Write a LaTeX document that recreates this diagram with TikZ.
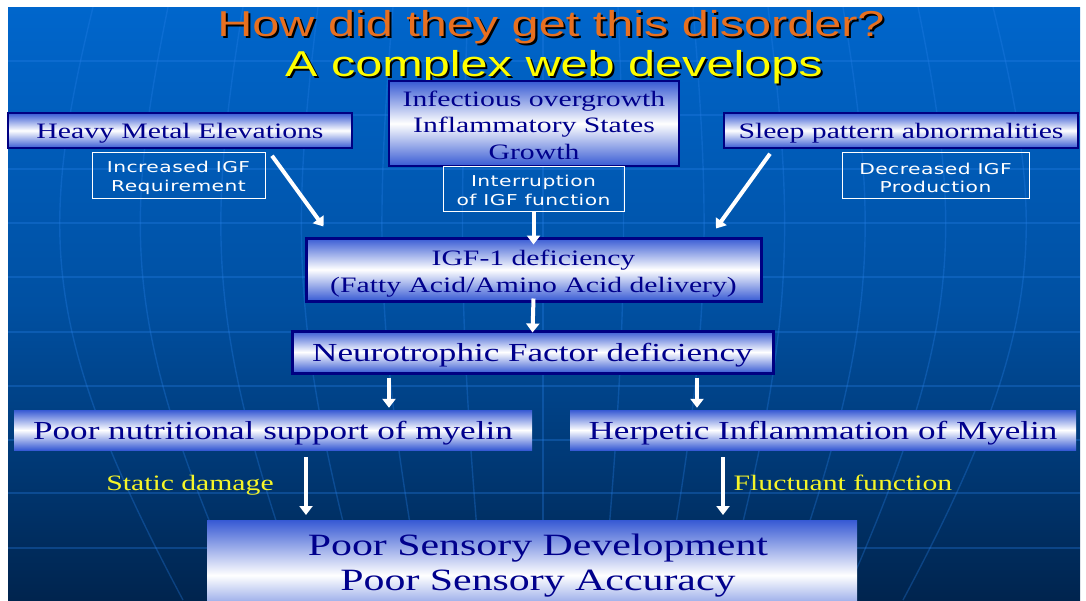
\documentclass[tikz,border=0pt]{standalone}
\usepackage{fontspec}
\setmainfont[FakeStretch=1.35]{Liberation Serif}
\newfontfamily\headfont[FakeStretch=1.35]{Liberation Sans}
\newfontfamily\notefont[FakeStretch=1.35,LetterSpace=3]{DejaVu Sans}
\usepackage{xcolor}
\usepackage{tikz}
\usetikzlibrary{arrows.meta}
\definecolor{bgtop}{RGB}{0,102,204}
\definecolor{bgmid}{RGB}{0,80,162}
\definecolor{bgbot}{RGB}{0,36,78}
\definecolor{gridblue}{RGB}{40,130,235}
\definecolor{boxblue}{RGB}{55,90,212}
\definecolor{boxline}{RGB}{0,0,130}
\definecolor{boxtext}{RGB}{0,0,140}
\definecolor{headorange}{RGB}{232,112,32}
\definecolor{headyellow}{RGB}{255,255,0}
\definecolor{labelyellow}{RGB}{245,245,40}
% invisible strut that pushes a node's text down inside its box
\newcommand{\textdrop}[1]{\rule{0pt}{#1pt}}
\tikzset{
    boxnode/.style = {align=center, inner sep=0pt, text centered, text=boxtext},
    cause_node/.style = {boxnode, top color=boxblue, bottom color=boxblue, middle color=white, draw=boxline, line width=1.5pt},
    deficit_node/.style = {cause_node, line width=3pt},
    myelin_node/.style = {boxnode, top color=boxblue, bottom color=boxblue, middle color=white},
    note_node/.style = {align=center, inner sep=0pt, draw=white, line width=0.8pt, text=white, font=\notefont\fontsize{15}{18.5}\selectfont},
    label_node/.style = {inner sep=0pt, text=labelyellow, font=\fontsize{22}{26}\selectfont},
    grid_line/.style = {gridblue, opacity=0.3, line width=1.4pt},
    arr/.style = {white, line width=4pt, -{Triangle[length=9pt,width=13pt]}}
}

\begin{document}
\begin{tikzpicture}[x=1pt, y=-1pt]
    \useasboundingbox (0,0) rectangle (1086,600);

    % slide background with its faint globe grid
    \begin{scope}
        \clip (8,7) rectangle (1080,600);
        \fill[top color=bgtop, bottom color=bgbot, middle color=bgmid] (8,7) rectangle (1080,600);
        \foreach \y in {61,115,169,223,277,332,386,440,493,548}
            \draw[grid_line] (8,\y) -- (1080,\y);
        \foreach \k in {-6,...,6}
            \draw[grid_line] ({543+75*\k},7) .. controls ({543+84*\k},230) and ({543+84*\k},330) .. ({543+60*\k},600);
    \end{scope}

    % heading
    \node[inner sep=0pt, text=black, font=\headfont\fontsize{36}{40}\selectfont] (title_shadow) at (553,29) {How did they get this disorder?};
    \node[inner sep=0pt, text=headorange, font=\headfont\fontsize{36}{40}\selectfont] (title) at (551,27) {How did they get this disorder?};
    \node[inner sep=0pt, text=black, font=\headfont\fontsize{36}{40}\selectfont] (subtitle_shadow) at (556,69) {A complex web develops};
    \node[inner sep=0pt, text=headyellow, font=\headfont\fontsize{36}{40}\selectfont] (subtitle) at (554,67) {A complex web develops};

    % causes
    \node[cause_node, minimum width=344, minimum height=35, font=\fontsize{22}{26}\selectfont] (metal) at (180,130.5) {\textdrop{21}Heavy Metal Elevations};
    \node[cause_node, minimum width=290, minimum height=85, font=\fontsize{22}{26.5}\selectfont] (infect) at (534,123.5) {\textdrop{19}Infectious overgrowth\\Inflammatory States\\Growth};
    \node[cause_node, minimum width=354, minimum height=35, font=\fontsize{22}{26}\selectfont] (sleep) at (901,130.5) {\textdrop{21}Sleep pattern abnormalities};

    \node[note_node, minimum width=173, minimum height=46] (increased) at (178.5,175) {\textdrop{17.4}Increased IGF\\Requirement};
    \node[note_node, minimum width=181, minimum height=45] (interrupt) at (533.5,188.5) {\textdrop{15.4}Interruption\\of IGF function};
    \node[note_node, minimum width=187, minimum height=46] (decreased) at (935.5,175) {\textdrop{17.4}Decreased IGF\\Production};

    % deficiencies
    \node[deficit_node, minimum width=455, minimum height=63, font=\fontsize{22}{27}\selectfont] (igf) at (533.5,269.5) {\textdrop{23}IGF-1 deficiency\\(Fatty Acid/Amino Acid delivery)};
    \node[deficit_node, minimum width=481, minimum height=42, font=\fontsize{26}{30}\selectfont] (neuro) at (532.5,352) {\textdrop{24}Neurotrophic Factor deficiency};

    % myelin
    \node[myelin_node, minimum width=518, minimum height=40, font=\fontsize{26}{30}\selectfont] (poor_support) at (273,430) {\textdrop{25.5}Poor nutritional support of myelin};
    \node[myelin_node, minimum width=506, minimum height=40, font=\fontsize{26}{30}\selectfont] (herpetic) at (823,430) {\textdrop{25.5}Herpetic Inflammation of Myelin};

    \node[label_node] (static) at (190,485) {Static damage};
    \node[label_node] (fluctuant) at (843,483) {Fluctuant function};

    % outcome
    \node[myelin_node, minimum width=650, minimum height=110, anchor=north] (sensory) at (532,520) {};
    \node[boxnode, font=\fontsize{31}{35}\selectfont] (sensory_text) at (538,566) {Poor Sensory Development\\Poor Sensory Accuracy};

    % arrows
    \draw[arr] ([shift={(92,7)}]metal.south) -- ([shift={(-210,-10)}]igf.north);
    \draw[arr] (interrupt.south) -- ([yshift=-8]igf.north);
    \draw[arr] ([shift={(-131,5)}]sleep.south) -- ([shift={(182.5,-8)}]igf.north);
    \draw[arr] ([yshift=4]igf.south) -- ([yshift=-3]neuro.north);
    \draw[arr] ([shift={(-143.5,3)}]neuro.south) -- ([shift={(116,-2)}]poor_support.north);
    \draw[arr] ([shift={(164.5,3)}]neuro.south) -- ([shift={(-126,-2)}]herpetic.north);
    \draw[arr] ([shift={(33,7)}]poor_support.south) -- ([shift={(-226,-5)}]sensory.north);
    \draw[arr] ([shift={(-100,7)}]herpetic.south) -- ([shift={(191,-5)}]sensory.north);
\end{tikzpicture}
\end{document}
